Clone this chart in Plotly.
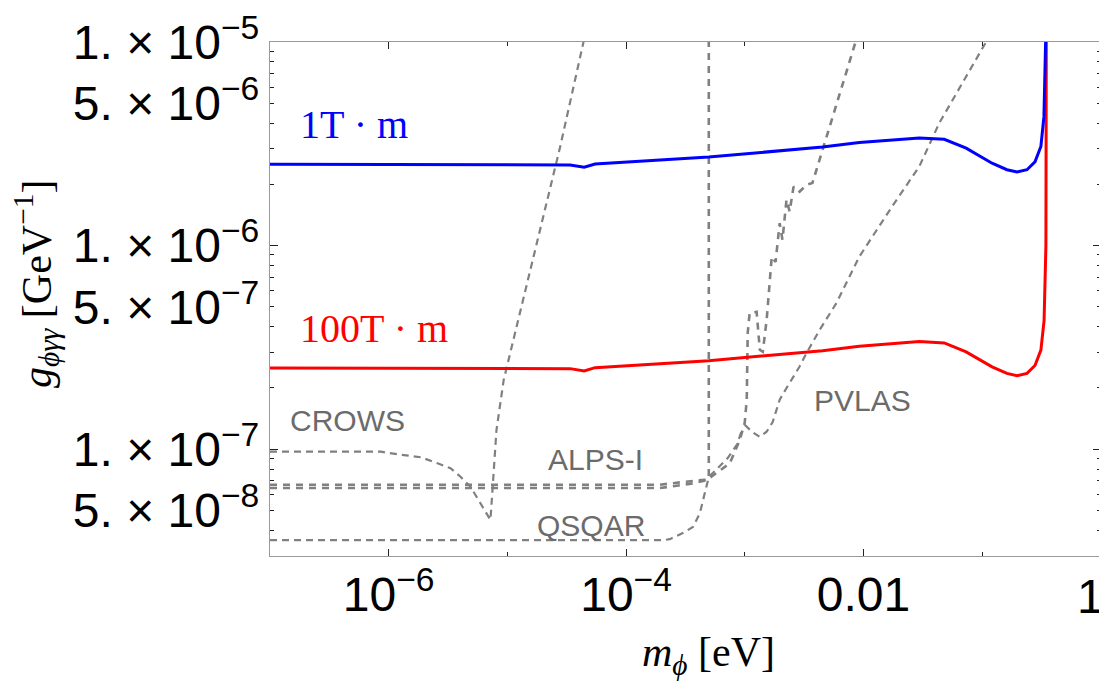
import plotly.graph_objects as go

# ---------------- data ----------------
# sensitivity curves: mass [eV] -> coupling [GeV^-1]
mass_sens = [1e-7, 8.73e-6, 3.38e-5, 4.44e-5, 5.48e-5, 4.98e-4, 4.52e-3, 9.25e-3,
             1.36e-2, 2.96e-2, 4.80e-2, 7.34e-2, 0.1214, 0.162, 0.197, 0.239,
             0.279, 0.313, 0.332, 0.343, 0.348]
g_1Tm = [2.508e-6, 2.507e-6, 2.489e-6, 2.426e-6, 2.517e-6, 2.723e-6, 3.049e-6, 3.21e-6,
         3.26e-6, 3.38e-6, 3.33e-6, 3.01e-6, 2.54e-6, 2.36e-6, 2.30e-6, 2.36e-6,
         2.58e-6, 3.07e-6, 4.30e-6, 1.0e-5, 1.0e-4]
mass_sens_red = [1e-7, 8.73e-6, 3.38e-5, 4.44e-5, 5.48e-5, 4.98e-4, 4.52e-3, 9.25e-3,
                 1.36e-2, 2.96e-2, 4.80e-2, 7.34e-2, 0.1214, 0.162, 0.197, 0.239,
                 0.279, 0.313, 0.333, 0.345, 0.350]
g_100Tm = [2.508e-7, 2.507e-7, 2.489e-7, 2.426e-7, 2.517e-7, 2.723e-7, 3.049e-7, 3.21e-7,
           3.26e-7, 3.38e-7, 3.33e-7, 3.01e-7, 2.54e-7, 2.36e-7, 2.30e-7, 2.36e-7,
           2.58e-7, 3.07e-7, 4.30e-7, 1.0e-6, 1.0e-4]

# existing bounds
crows_m = [1e-7, 8.57e-7, 1.34e-6, 1.86e-6, 2.58e-6, 3.32e-6, 4.03e-6, 4.89e-6, 5.93e-6,
           7.20e-6, 7.43e-6, 7.67e-6, 8.09e-6, 9.31e-6, 2.79e-5, 4.38e-5, 4.98e-5]
crows_g = [9.73e-8, 9.73e-8, 9.37e-8, 9.14e-8, 8.54e-8, 8.07e-8, 7.33e-8, 6.55e-8, 5.43e-8,
           4.50e-8, 5.85e-8, 7.91e-8, 1.24e-7, 2.19e-7, 3.07e-6, 1.0e-5, 1.45e-5]

alps_vac_m = [1e-7, 1.93e-4, 2.67e-4, 3.68e-4, 4.77e-4, 4.98e-4, 4.98e-4]
alps_vac_g = [6.70e-8, 6.70e-8, 6.85e-8, 6.97e-8, 7.10e-8, 7.15e-8, 1.0e-4]

alps_gas_m = [1e-7, 1.93e-4, 2.67e-4, 3.68e-4, 4.77e-4, 6.17e-4, 7.48e-4, 9.08e-4, 1.0e-3,
              1.04e-3, 1.06e-3, 1.10e-3, 1.26e-3, 1.34e-3, 1.42e-3, 1.53e-3, 1.62e-3,
              1.69e-3, 1.82e-3, 1.97e-3, 2.08e-3, 2.25e-3, 2.39e-3, 2.58e-3, 2.90e-3,
              3.32e-3, 3.72e-3, 8.39e-3, 9.24e-3]
alps_gas_g = [6.45e-8, 6.45e-8, 6.62e-8, 6.81e-8, 7.06e-8, 7.91e-8, 8.53e-8, 1.11e-7, 1.35e-7,
              1.75e-7, 3.73e-7, 4.67e-7, 4.73e-7, 3.08e-7, 3.01e-7, 4.32e-7, 6.79e-7,
              8.83e-7, 8.32e-7, 1.29e-6, 1.07e-6, 1.68e-6, 1.47e-6, 1.95e-6, 1.84e-6,
              1.99e-6, 2.03e-6, 9.70e-6, 1.15e-5]

qsqar_m = [1e-7, 2.05e-4, 2.34e-4, 3.01e-4, 3.66e-4, 4.19e-4, 4.61e-4, 4.98e-4, 5.93e-4,
           7.19e-4, 8.57e-4, 9.61e-4]
qsqar_g = [3.58e-8, 3.58e-8, 3.62e-8, 3.88e-8, 4.15e-8, 4.86e-8, 6.10e-8, 7.31e-8, 8.09e-8,
           9.06e-8, 1.05e-7, 1.27e-7]

pvlas_m = [1.0e-3, 1.15e-3, 1.34e-3, 1.53e-3, 1.72e-3, 1.97e-3, 2.25e-3, 2.90e-3, 3.32e-3,
           4.27e-3, 5.93e-3, 9.24e-3, 1.75e-2, 2.96e-2, 4.36e-2, 0.108, 0.139]
pvlas_g = [1.32e-7, 1.22e-7, 1.15e-7, 1.22e-7, 1.36e-7, 1.75e-7, 2.00e-7, 2.55e-7, 2.97e-7,
           3.85e-7, 5.23e-7, 8.83e-7, 1.56e-6, 2.45e-6, 4.00e-6, 1.0e-5, 1.29e-5]

# ticks (the label of the last x tick, "1", sits at the very edge and is drawn separately)
x_tickvals = [1e-6, 1e-4, 1e-2, 1]
x_ticktext = ["10<sup>\u22126</sup>", "10<sup>\u22124</sup>", "0.01", ""]
x_edge_label = "1"
x_minorvals = [1e-7, 1e-5, 1e-3, 1e-1]
y_tickvals = [5e-8, 1e-7, 5e-7, 1e-6, 5e-6, 1e-5]
y_ticktext = ["5. \u00d7 10<sup>\u22128</sup>", "1. \u00d7 10<sup>\u22127</sup>",
              "5. \u00d7 10<sup>\u22127</sup>", "1. \u00d7 10<sup>\u22126</sup>",
              "5. \u00d7 10<sup>\u22126</sup>", "1. \u00d7 10<sup>\u22125</sup>"]
y_decades = [1e-7, 1e-6, 1e-5]
y_minorvals = [k * 10.0 ** e for e in (-8, -7, -6) for k in range(2, 10)
               if k != 5 and k * 10.0 ** e >= 3e-8]

# ---------------- figure ----------------
OFF = 8                      # default body margin of the html page
W, H = 1107 - OFF, 681 - OFF
ML, MR, MT, MB = 270 - OFF, 6, 42 - OFF, 681 - 556
PW, PH = W - ML - MR, H - MT - MB
XR = [-7.0, 0.002]


def px_x(px):
    return (px - OFF - ML) / PW


def px_y(py):
    return (H - MB - (py - OFF)) / PH


GRAY = "#808080"
fig = go.Figure()

fig.add_trace(go.Scatter(x=crows_m, y=crows_g, mode="lines",
                         line=dict(color=GRAY, width=2.2, dash="7px,5px")))
fig.add_trace(go.Scatter(x=alps_vac_m, y=alps_vac_g, mode="lines",
                         line=dict(color=GRAY, width=2.6, dash="7px,6px")))
fig.add_trace(go.Scatter(x=alps_gas_m, y=alps_gas_g, mode="lines",
                         line=dict(color=GRAY, width=2.6, dash="7px,6px")))
fig.add_trace(go.Scatter(x=qsqar_m, y=qsqar_g, mode="lines",
                         line=dict(color=GRAY, width=2.2, dash="7px,5px")))
fig.add_trace(go.Scatter(x=pvlas_m, y=pvlas_g, mode="lines",
                         line=dict(color=GRAY, width=2.2, dash="7px,5px")))
fig.add_trace(go.Scatter(x=mass_sens_red, y=g_100Tm, mode="lines",
                         line=dict(color="#ff0000", width=3)))
fig.add_trace(go.Scatter(x=mass_sens, y=g_1Tm, mode="lines",
                         line=dict(color="#0000ff", width=3)))
# helper trace for decade ticks (long ticks) on overlaid y axis
fig.add_trace(go.Scatter(x=[None], y=[None], yaxis="y2", mode="lines",
                         hoverinfo="skip"))

tickfont = dict(family="Liberation Sans, Arial", size=48, color="black")

fig.update_layout(
    width=W, height=H, showlegend=False,
    plot_bgcolor="white", paper_bgcolor="white",
    margin=dict(l=ML, r=MR, t=MT, b=MB, autoexpand=False),
    xaxis=dict(type="log", range=XR, showgrid=False, zeroline=False,
               showline=True, linecolor="#9a9a9a", linewidth=1.3, mirror="ticks",
               ticks="inside", ticklen=7, tickwidth=1.2, tickcolor="#222",
               tickmode="array", tickvals=x_tickvals, ticktext=x_ticktext,
               tickfont=tickfont, automargin=False, ticklabelstandoff=-4,
               minor=dict(tickmode="array", tickvals=x_minorvals, ticks="inside",
                          ticklen=4, tickwidth=1.2, tickcolor="#222", showgrid=False)),
    yaxis=dict(type="log", range=[-7.524, -5.0], showgrid=False, zeroline=False,
               showline=True, linecolor="#9a9a9a", linewidth=1.3, mirror="ticks",
               ticks="inside", ticklen=4, tickwidth=1.2, tickcolor="#222",
               tickmode="array", tickvals=y_tickvals, ticktext=y_ticktext,
               tickfont=tickfont, automargin=False,
               minor=dict(tickmode="array", tickvals=y_minorvals, ticks="inside",
                          ticklen=4, tickwidth=1.2, tickcolor="#222", showgrid=False)),
    yaxis2=dict(type="log", range=[-7.524, -5.0], overlaying="y", side="left",
                showgrid=False, zeroline=False, showline=False, mirror="ticks",
                ticks="inside", ticklen=8, tickwidth=1.2, tickcolor="#222",
                tickmode="array", tickvals=y_decades, showticklabels=False,
                automargin=False),
)

serif = "Liberation Serif, Times New Roman, serif"
sans = "Liberation Sans, Arial, sans-serif"
ann = []
# edge tick label "1" (x = 1 on the log axis), kept fully inside the page
ann.append(dict(x=1.0 + MR / PW, y=px_y(596), text=x_edge_label,
                xanchor="right", yanchor="middle", xshift=-2, borderpad=0,
                font=tickfont))
# curve labels
ann.append(dict(x=px_x(298), y=px_y(125), text="1T \u00b7 m", xanchor="left", yanchor="middle",
                font=dict(family=serif, size=40, color="#0000ff")))
ann.append(dict(x=px_x(298), y=px_y(328), text="100T \u00b7 m", xanchor="left", yanchor="middle",
                font=dict(family=serif, size=40, color="#ff0000")))
for txt, cx, cy in [("CROWS", 347, 420), ("ALPS-I", 595, 459), ("QSQAR", 591, 525),
                    ("PVLAS", 862, 400)]:
    ann.append(dict(x=px_x(cx), y=px_y(cy), text=txt, xanchor="center", yanchor="middle",
                    font=dict(family=sans, size=30, color="#6b6b6b")))
# axis titles
ann.append(dict(x=px_x(708), y=px_y(655), text="<i>m</i><sub><i>\u03d5</i></sub> [eV]",
                xanchor="center", yanchor="middle",
                font=dict(family=serif, size=42, color="black")))
ann.append(dict(x=px_x(36), y=px_y(284), text="<i>g</i><sub><i>\u03d5\u03b3\u03b3</i></sub> [GeV<sup>\u22121</sup>]",
                xanchor="center", yanchor="middle", textangle=-90,
                font=dict(family=serif, size=42, color="black")))
for a in ann:
    a.update(xref="paper", yref="paper", showarrow=False)
fig.update_layout(annotations=ann)

fig.write_html("out.html")
